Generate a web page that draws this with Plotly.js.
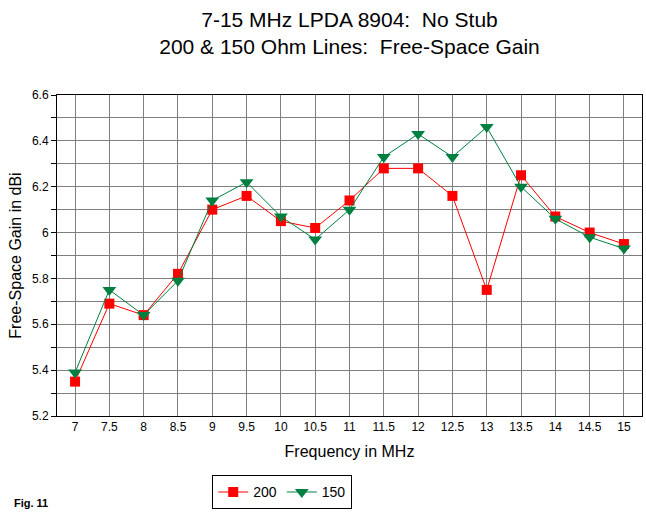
<!DOCTYPE html>
<html>
<head>
<meta charset="utf-8">
<script src="https://cdn.plot.ly/plotly-3.0.1.min.js"></script>
<style>html,body{margin:0;padding:0;background:#fff;}#chart{width:646px;height:524px;}</style>
</head>
<body>
<div id="chart"></div>
<script>
var freqs = [7, 7.5, 8, 8.5, 9, 9.5, 10, 10.5, 11, 11.5, 12, 12.5, 13, 13.5, 14, 14.5, 15];
var gain200 = [5.35, 5.69, 5.64, 5.82, 6.10, 6.16, 6.05, 6.02, 6.14, 6.28, 6.28, 6.16, 5.75, 6.25, 6.07, 6.00, 5.95];
var gain150 = [5.39, 5.75, 5.64, 5.79, 6.14, 6.22, 6.07, 5.97, 6.10, 6.33, 6.43, 6.33, 6.46, 6.20, 6.06, 5.98, 5.93];
var xTickLabels = ["7","7.5","8","8.5","9","9.5","10","10.5","11","11.5","12","12.5","13","13.5","14","14.5","15"];
var yTickVals = [5.2, 5.4, 5.6, 5.8, 6, 6.2, 6.4, 6.6];
var yTickLabels = ["5.2","5.4","5.6","5.8","6","6.2","6.4","6.6"];

var FONT = "Arial, 'Liberation Sans', sans-serif";
var traces = [
  {x: freqs, y: gain200, name: "200", type: "scatter", mode: "lines+markers",
   line: {color: "#FF0000", width: 1}, marker: {symbol: "square", size: 10, color: "#FF0000"}},
  {x: freqs, y: gain150, name: "150", type: "scatter", mode: "lines+markers",
   line: {color: "#008040", width: 1}, marker: {symbol: "triangle-down", size: 12, color: "#008040"}}
];
var layout = {
  width: 646, height: 524,
  margin: {l: 57, r: 4, t: 95, b: 108},
  paper_bgcolor: "#fff", plot_bgcolor: "#fff",
  font: {family: FONT, color: "#000", size: 12},
  title: {text: "7-15 MHz LPDA 8904:  No Stub<br>200 & 150 Ohm Lines:  Free-Space Gain",
          font: {family: FONT, size: 21, color: "#000"}, x: 0.5, xref: "paper",
          yref: "container", y: 1 - 27 / 524, yanchor: "middle"},
  xaxis: {range: [6.737, 15.263], tickvals: freqs, ticktext: xTickLabels,
          showgrid: true, gridcolor: "#808080", gridwidth: 1,
          showline: true, linecolor: "#000", linewidth: 1, mirror: true,
          ticks: "", zeroline: false, tickfont: {size: 12},
          title: {text: "Frequency in MHz", font: {size: 16}, standoff: 12}},
  yaxis: {range: [5.2, 6.6], tickvals: yTickVals, ticktext: yTickLabels,
          showgrid: true, gridcolor: "#808080", gridwidth: 1,
          minor: {dtick: 0.1, showgrid: true, gridcolor: "#808080", gridwidth: 1, ticks: "outside", ticklen: 5, tickcolor: "#000"},
          showline: true, linecolor: "#000", linewidth: 1, mirror: true,
          ticks: "outside", ticklen: 5, tickcolor: "#000", zeroline: false, tickfont: {size: 12},
          title: {text: "Free-Space Gain in dBi", font: {size: 16}, standoff: 6}},
  showlegend: true,
  legend: {orientation: "h", x: 0.385, xanchor: "center", y: -0.185, yanchor: "top",
           bordercolor: "#000", borderwidth: 1, font: {size: 14}, bgcolor: "#fff"},
  annotations: [{text: "<b>Fig. 11</b>", xref: "paper", yref: "paper",
                 x: (12 - 57) / 585, y: (416 - 503) / 321, xanchor: "left", yanchor: "middle",
                 showarrow: false, font: {size: 11}}]
};
Plotly.newPlot("chart", traces, layout, {displayModeBar: false, staticPlot: true});
</script>
</body>
</html>
